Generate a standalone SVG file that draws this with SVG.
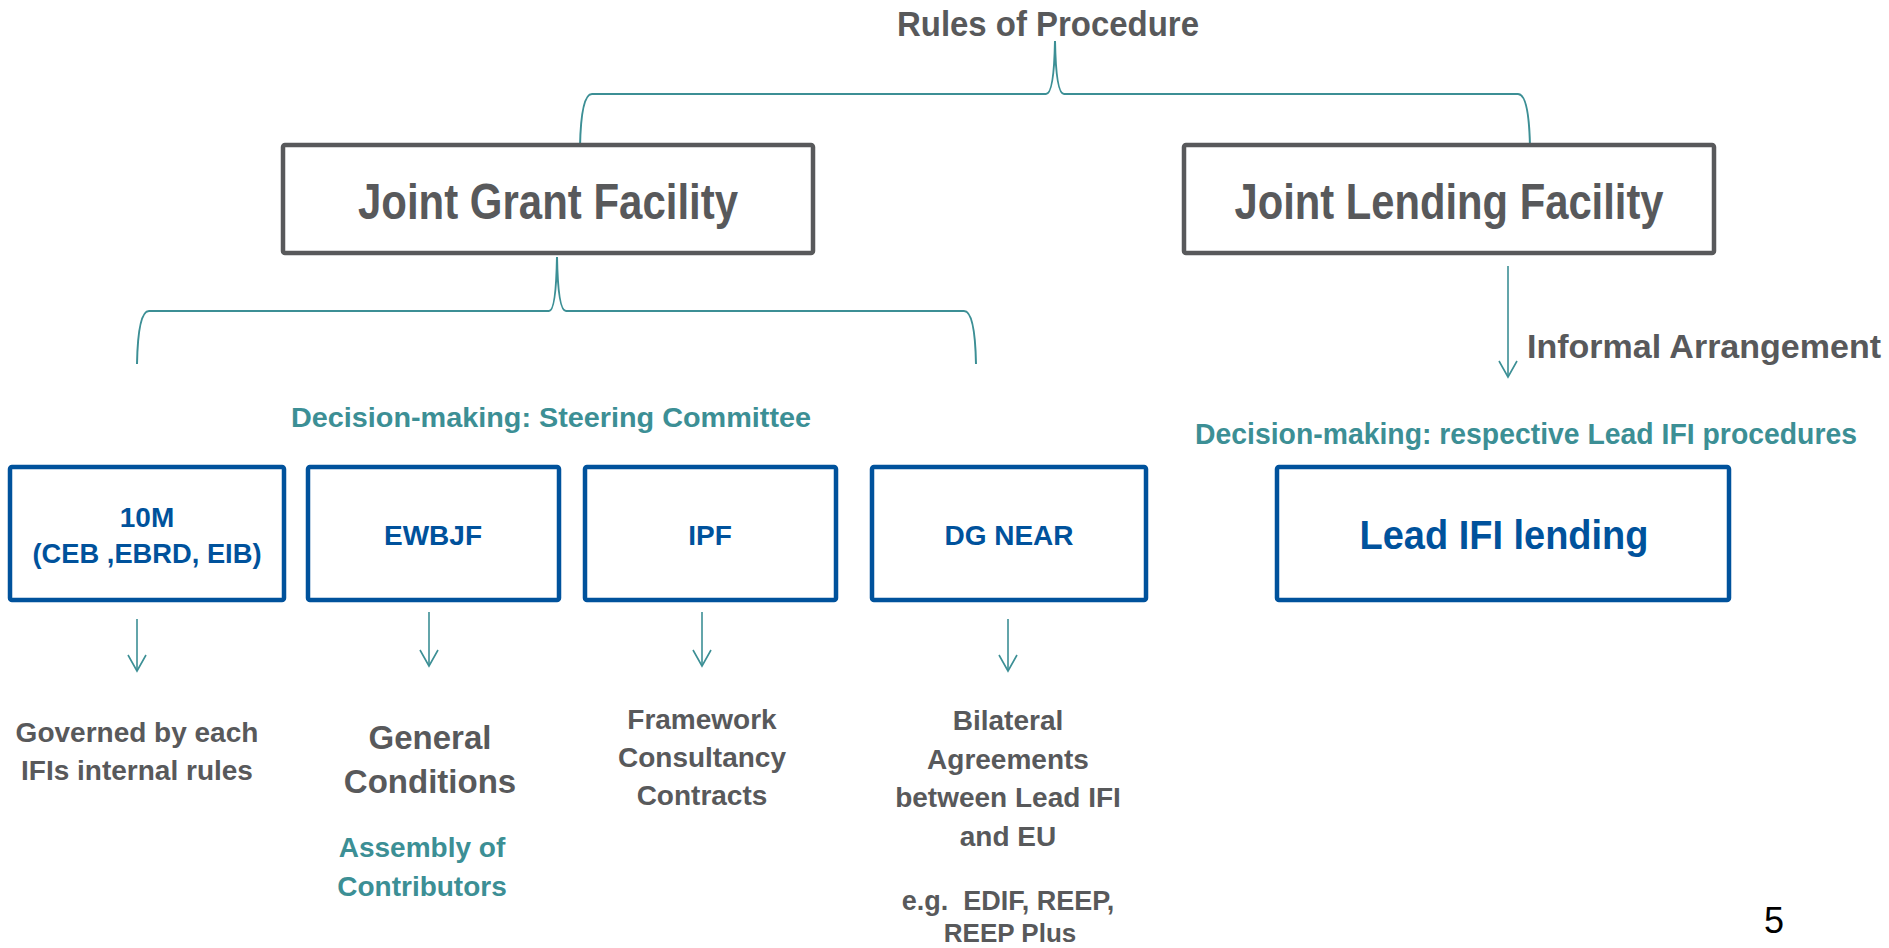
<svg xmlns="http://www.w3.org/2000/svg" width="1889" height="948" viewBox="0 0 1889 948">
<defs>
<style>
.t{font-family:"Liberation Sans",Arial,sans-serif;font-weight:bold;text-anchor:middle}
.g{fill:#58595B}
.tl{fill:#3C8F95}
.b{fill:#00529C}
.gbox{fill:#fff;stroke:#58595B;stroke-width:4.5}
.bbox{fill:#fff;stroke:#00529C;stroke-width:4.5}
.con{fill:none;stroke:#3C8F95;stroke-width:2}
.arr{fill:none;stroke:#3C8F95;stroke-width:1.6;marker-end:url(#ah)}
</style>
<marker id="ah" viewBox="0 0 20 20" refX="18" refY="10" markerWidth="20" markerHeight="20" markerUnits="userSpaceOnUse" orient="auto">
<path d="M2,1 L18,10 L2,19" fill="none" stroke="#3C8F95" stroke-width="1.6"/>
</marker>
</defs>
<rect width="1889" height="948" fill="#fff"/>

<g id="connectors">
<path class="con" d="M580,147 Q581,94 592,94 L1046,94 Q1054,94 1055,41 Q1056,94 1064,94 L1518,94 Q1529,94 1530,147"/>
<path class="con" d="M137,364 Q138,311 149,311 L549,311 Q556,311 557,257 Q558,311 566,311 L964,311 Q975,311 976,364"/>
<path class="arr" d="M1508,266 L1508,377"/>
<path class="arr" d="M137,619 L137,671"/>
<path class="arr" d="M429,612 L429,666"/>
<path class="arr" d="M702,612 L702,666"/>
<path class="arr" d="M1008,619 L1008,671"/>
</g>

<g id="rules-of-procedure">
<text class="t g" x="1048" y="36" font-size="35" textLength="302" lengthAdjust="spacingAndGlyphs">Rules of Procedure</text>
</g>

<g id="joint-grant-facility">
<rect class="gbox" x="283" y="145" width="530" height="108" rx="2"/>
<text class="t g" x="548" y="219" font-size="50" textLength="380" lengthAdjust="spacingAndGlyphs">Joint Grant Facility</text>
</g>

<g id="joint-lending-facility">
<rect class="gbox" x="1184" y="145" width="530" height="108" rx="2"/>
<text class="t g" x="1449" y="219" font-size="50" textLength="429" lengthAdjust="spacingAndGlyphs">Joint Lending Facility</text>
</g>

<g id="informal-arrangement">
<text class="t g" x="1704" y="358" font-size="33" textLength="354" lengthAdjust="spacingAndGlyphs">Informal Arrangement</text>
</g>

<g id="decision-steering">
<text class="t tl" x="551" y="427" font-size="28.5" textLength="520" lengthAdjust="spacingAndGlyphs">Decision-making: Steering Committee</text>
</g>

<g id="decision-lead">
<text class="t tl" x="1526" y="444" font-size="29" textLength="662" lengthAdjust="spacingAndGlyphs">Decision-making: respective Lead IFI procedures</text>
</g>

<g id="box-10m">
<rect class="bbox" x="10" y="467" width="274" height="133" rx="2"/>
<text class="t b" x="147" y="527" font-size="28">10M</text>
<text class="t b" x="147" y="563" font-size="28" textLength="229" lengthAdjust="spacingAndGlyphs">(CEB ,EBRD, EIB)</text>
</g>

<g id="box-ewbjf">
<rect class="bbox" x="308" y="467" width="251" height="133" rx="2"/>
<text class="t b" x="433" y="545" font-size="28">EWBJF</text>
</g>

<g id="box-ipf">
<rect class="bbox" x="585" y="467" width="251" height="133" rx="2"/>
<text class="t b" x="710" y="545" font-size="28">IPF</text>
</g>

<g id="box-dgnear">
<rect class="bbox" x="872" y="467" width="274" height="133" rx="2"/>
<text class="t b" x="1009" y="545" font-size="28">DG NEAR</text>
</g>

<g id="box-lead-ifi">
<rect class="bbox" x="1277" y="467" width="452" height="133" rx="2"/>
<text class="t b" x="1504" y="549" font-size="40" textLength="289" lengthAdjust="spacingAndGlyphs">Lead IFI lending</text>
</g>

<g id="governed">
<text class="t g" x="137" y="742" font-size="28">Governed by each</text>
<text class="t g" x="137" y="780" font-size="28">IFIs internal rules</text>
</g>

<g id="general-conditions">
<text class="t g" x="430" y="749" font-size="33">General</text>
<text class="t g" x="430" y="793" font-size="33">Conditions</text>
</g>

<g id="assembly">
<text class="t tl" x="422" y="857" font-size="28">Assembly of</text>
<text class="t tl" x="422" y="896" font-size="28">Contributors</text>
</g>

<g id="framework">
<text class="t g" x="702" y="729" font-size="28">Framework</text>
<text class="t g" x="702" y="767" font-size="28">Consultancy</text>
<text class="t g" x="702" y="805" font-size="28">Contracts</text>
</g>

<g id="bilateral">
<text class="t g" x="1008" y="730" font-size="28">Bilateral</text>
<text class="t g" x="1008" y="769" font-size="28">Agreements</text>
<text class="t g" x="1008" y="807" font-size="28">between Lead IFI</text>
<text class="t g" x="1008" y="846" font-size="28">and EU</text>
</g>

<g id="examples">
<text class="t g" x="1008" y="910" font-size="27" xml:space="preserve">e.g.  EDIF, REEP,</text>
<text class="t g" x="1010" y="942" font-size="26">REEP Plus</text>
</g>

<g id="page-number">
<text x="1764" y="933" font-family="Liberation Sans, Arial, sans-serif" font-size="36" fill="#000">5</text>
</g>
</svg>
